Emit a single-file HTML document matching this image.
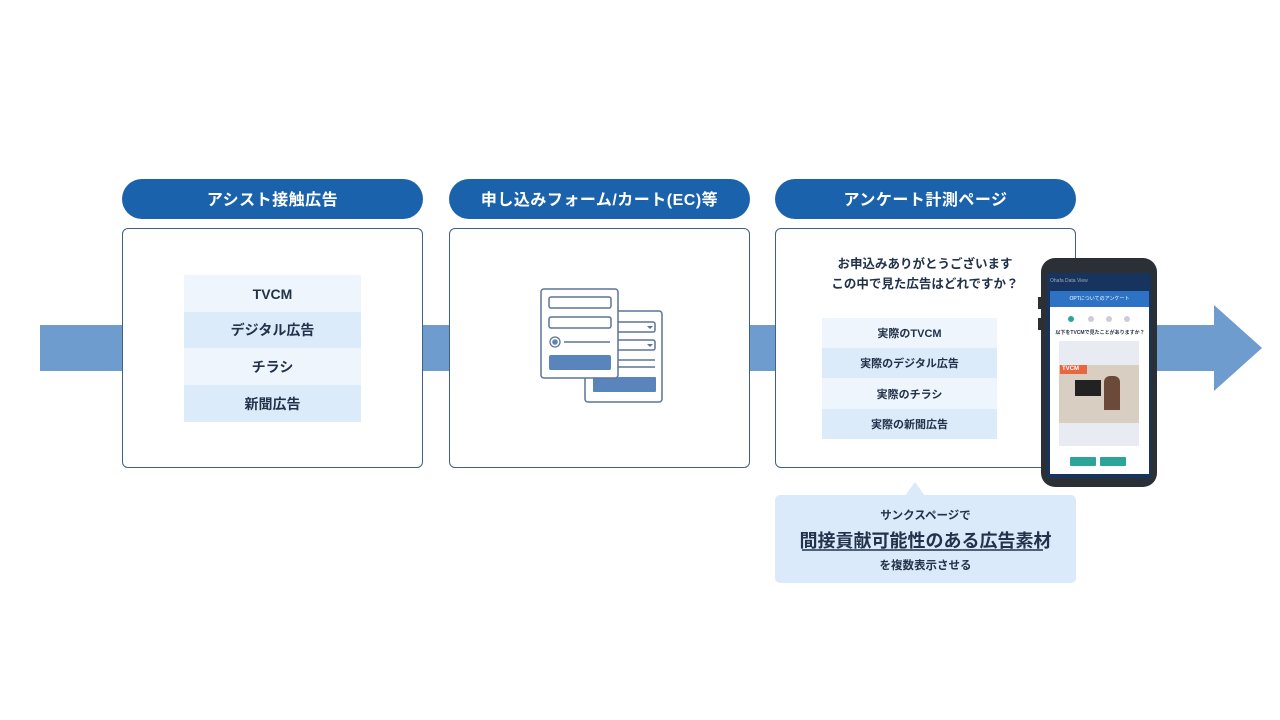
<!DOCTYPE html>
<html><head><meta charset="utf-8"><style>
*{margin:0;padding:0;box-sizing:border-box}
body{width:1280px;height:720px;background:#fff;position:relative;overflow:hidden;font-family:"Liberation Sans","Noto Sans CJK JP",sans-serif;color:#1f2d3d}
.a{position:absolute}
.pill{position:absolute;top:179px;height:40px;width:301px;border-radius:20px;background:#1b62ad;color:#fff;font-weight:bold;font-size:16px;display:flex;align-items:center;justify-content:center;letter-spacing:0.5px;padding-bottom:2px}
.box{position:absolute;top:228px;height:240px;width:301px;border:1.5px solid #3f6186;border-radius:6px;background:#fff}
.row{position:absolute;display:flex;align-items:center;justify-content:center;font-weight:bold;color:#22324a}
.l1{background:#eef5fc}.l2{background:#dcebfa}
</style></head><body>
<div class="a" style="left:40px;top:325px;width:1176px;height:46px;background:#6e9ccf"></div>
<svg class="a" style="left:1214px;top:305px" width="50" height="88"><polygon points="0,0 48,43 0,86" fill="#6e9ccf"/></svg>

<div class="pill" style="left:122px">アシスト接触広告</div>
<div class="pill" style="left:449px">申し込みフォーム/カート(EC)等</div>
<div class="pill" style="left:775px">アンケート計測ページ</div>

<div class="box" style="left:122px"></div>
<div class="box" style="left:449px"></div>
<div class="box" style="left:775px"></div>

<div class="row l1" style="left:184px;top:275px;width:177px;height:37px;font-size:14px">TVCM</div>
<div class="row l2" style="left:184px;top:312px;width:177px;height:36px;font-size:14px">デジタル広告</div>
<div class="row l1" style="left:184px;top:348px;width:177px;height:37px;font-size:14px">チラシ</div>
<div class="row l2" style="left:184px;top:385px;width:177px;height:37px;font-size:14px">新聞広告</div>

<svg class="a" style="left:520px;top:280px" width="160" height="130">
<rect x="65" y="31" width="77" height="91" rx="3" fill="#fff" stroke="#5d7596" stroke-width="1.5"/>
<rect x="85" y="42" width="50" height="10" rx="2" fill="none" stroke="#5d7596" stroke-width="1.5"/>
<rect x="85" y="60" width="50" height="10" rx="2" fill="none" stroke="#5d7596" stroke-width="1.5"/>
<path d="M127 46 l3 3 3-3z M127 64 l3 3 3-3z" fill="#5d7596"/>
<line x1="88" y1="80" x2="135" y2="80" stroke="#5d7596" stroke-width="1.5"/>
<line x1="88" y1="87" x2="135" y2="87" stroke="#5d7596" stroke-width="1.5"/>
<rect x="73" y="97" width="63" height="15" rx="1" fill="#5a84bc"/>
<rect x="21" y="9" width="77" height="89" rx="3" fill="#fff" stroke="#5d7596" stroke-width="1.5"/>
<rect x="29" y="17" width="62" height="11" rx="2" fill="none" stroke="#5d7596" stroke-width="1.5"/>
<rect x="29" y="37" width="62" height="11" rx="2" fill="none" stroke="#5d7596" stroke-width="1.5"/>
<circle cx="35" cy="62" r="5" fill="none" stroke="#5d7596" stroke-width="1.3"/><circle cx="35" cy="62" r="2.8" fill="#5a84bc"/>
<line x1="44" y1="62" x2="90" y2="62" stroke="#5d7596" stroke-width="1.5"/>
<rect x="29" y="75" width="62" height="15" rx="2" fill="#5a84bc"/>
</svg>

<div class="a" style="left:790px;top:254px;width:270px;text-align:center;font-weight:bold;font-size:12.5px;line-height:20px;color:#22324a">お申込みありがとうございます<br>この中で見た広告はどれですか？</div>
<div class="row l1" style="left:822px;top:318px;width:175px;height:30px;font-size:11px">実際のTVCM</div>
<div class="row l2" style="left:822px;top:348px;width:175px;height:30px;font-size:11px">実際のデジタル広告</div>
<div class="row l1" style="left:822px;top:378px;width:175px;height:31px;font-size:11px">実際のチラシ</div>
<div class="row l2" style="left:822px;top:409px;width:175px;height:30px;font-size:11px">実際の新聞広告</div>

<svg class="a" style="left:775px;top:480px" width="301" height="104">
<polygon points="130,16 140,2 150,16" fill="#dbeafa"/>
<rect x="0" y="15" width="301" height="88" rx="5" fill="#dbeafa"/>
<line x1="27" y1="70" x2="268" y2="70" stroke="#22324a" stroke-width="1.5"/>
</svg>
<div class="a" style="left:775px;top:507px;width:301px;text-align:center;font-weight:bold;font-size:11.5px;color:#22324a">サンクスページで</div>
<div class="a" style="left:775px;top:527px;width:301px;text-align:center;font-weight:bold;font-size:18px;color:#22324a">間接貢献可能性のある広告素材</div>
<div class="a" style="left:775px;top:557px;width:301px;text-align:center;font-weight:bold;font-size:11.5px;color:#22324a">を複数表示させる</div>

<div class="a" style="left:1038px;top:297px;width:6px;height:12px;background:#2b2f36"></div>
<div class="a" style="left:1038px;top:318px;width:6px;height:12px;background:#2b2f36"></div>
<div class="a" style="left:1041px;top:258px;width:116px;height:229px;background:#2b2f36;border-radius:14px"></div>
<div class="a" style="left:1047px;top:273px;width:104px;height:205px;background:#17345e;border-radius:3px"></div>
<div class="a" style="left:1050px;top:278px;font-size:5px;color:#9ab">Ohafa Data View</div>
<div class="a" style="left:1050px;top:291px;width:99px;height:183px;background:#fff"></div>
<div class="a" style="left:1050px;top:291px;width:99px;height:16px;background:#2d72c4;color:#fff;font-size:5px;text-align:center;line-height:16px">OPTについてのアンケート</div>
<div class="a" style="left:1068px;top:316px;width:6px;height:6px;border-radius:50%;background:#2aa598"></div>
<div class="a" style="left:1088px;top:316px;width:6px;height:6px;border-radius:50%;background:#ccd"></div>
<div class="a" style="left:1106px;top:316px;width:6px;height:6px;border-radius:50%;background:#ccd"></div>
<div class="a" style="left:1124px;top:316px;width:6px;height:6px;border-radius:50%;background:#ccd"></div>
<div class="a" style="left:1055px;top:329px;width:90px;font-size:5px;font-weight:bold;text-align:center">以下をTVCMで見たことがありますか？</div>
<div class="a" style="left:1059px;top:341px;width:80px;height:105px;background:#e8ecf2"></div>
<div class="a" style="left:1059px;top:365px;width:80px;height:58px;background:#d8cfc2"></div>
<div class="a" style="left:1075px;top:380px;width:26px;height:16px;background:#222"></div>
<div class="a" style="left:1104px;top:376px;width:16px;height:34px;background:#6b4a3a;border-radius:6px 6px 0 0"></div>
<div class="a" style="left:1060px;top:365px;width:27px;height:9px;background:#e8673f;color:#fff;font-size:6px;font-weight:bold;line-height:9px;padding-left:2px">TVCM</div>
<div class="a" style="left:1070px;top:457px;width:26px;height:9px;background:#2aa598;border-radius:1px"></div>
<div class="a" style="left:1100px;top:457px;width:26px;height:9px;background:#2aa598;border-radius:1px"></div>
</body></html>
